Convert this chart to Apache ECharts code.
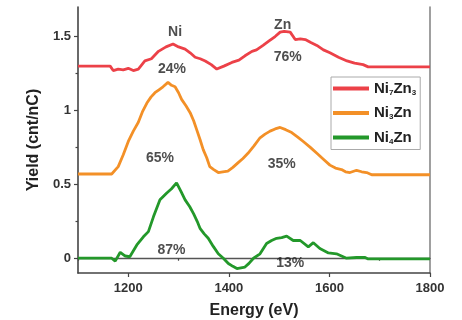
<!DOCTYPE html>
<html>
<head>
<meta charset="utf-8">
<script src="https://cdn.jsdelivr.net/npm/echarts@6/dist/echarts.min.js"></script>
<style>
  html, body { margin: 0; padding: 0; background: #fff; }
  #chart { width: 462px; height: 320px; }
</style>
</head>
<body>
<div id="chart"></div>
<script>
// Yield spectra: [energy (eV), yield (cnt/nC)]
const ni7zn3 = [
  [1100,1.30],[1164,1.30],[1170,1.27],[1180,1.28],[1190,1.275],[1200,1.285],[1210,1.27],[1220,1.28],
  [1233,1.335],[1246,1.35],[1260,1.40],[1275,1.43],[1289,1.45],[1300,1.43],[1313,1.415],[1323,1.39],
  [1333,1.36],[1343,1.35],[1353,1.335],[1365,1.31],[1376,1.28],[1390,1.30],[1406,1.325],[1420,1.34],
  [1432,1.37],[1446,1.40],[1455,1.41],[1468,1.44],[1480,1.47],[1492,1.50],[1502,1.53],[1510,1.535],
  [1522,1.53],[1532,1.48],[1542,1.485],[1552,1.48],[1563,1.46],[1575,1.44],[1588,1.41],[1601,1.39],
  [1618,1.36],[1635,1.335],[1650,1.32],[1667,1.31],[1677,1.295],[1800,1.295]
];
const ni3zn = [
  [1100,0.57],[1167,0.57],[1180,0.62],[1190,0.70],[1200,0.79],[1210,0.86],[1220,0.92],[1228,0.99],
  [1237,1.05],[1245,1.09],[1253,1.12],[1261,1.14],[1269,1.16],[1279,1.19],[1286,1.17],[1293,1.16],
  [1300,1.12],[1306,1.075],[1315,1.03],[1323,0.985],[1330,0.93],[1336,0.87],[1343,0.80],[1349,0.735],
  [1356,0.68],[1362,0.62],[1370,0.60],[1379,0.58],[1388,0.585],[1398,0.59],[1408,0.615],[1418,0.645],
  [1428,0.675],[1438,0.71],[1450,0.76],[1462,0.815],[1472,0.84],[1482,0.86],[1492,0.875],[1502,0.885],
  [1513,0.87],[1525,0.85],[1537,0.82],[1548,0.79],[1562,0.75],[1575,0.71],[1588,0.67],[1601,0.63],
  [1612,0.61],[1624,0.60],[1632,0.585],[1641,0.58],[1654,0.595],[1664,0.585],[1674,0.58],[1684,0.565],
  [1800,0.565]
];
const ni4zn = [
  [1100,0],[1167,0],[1174,-0.02],[1184,0.04],[1194,0.015],[1203,0.01],[1217,0.09],[1230,0.145],
  [1240,0.18],[1250,0.28],[1263,0.395],[1276,0.44],[1286,0.47],[1296,0.51],[1305,0.45],[1313,0.395],
  [1322,0.35],[1330,0.30],[1337,0.25],[1343,0.20],[1351,0.165],[1359,0.135],[1369,0.08],[1379,0.03],
  [1389,0.0],[1399,-0.036],[1408,-0.055],[1416,-0.07],[1424,-0.065],[1432,-0.06],[1440,-0.035],[1449,0.0],
  [1462,0.03],[1475,0.10],[1485,0.12],[1495,0.135],[1505,0.14],[1515,0.15],[1528,0.12],[1542,0.12],
  [1558,0.077],[1568,0.105],[1581,0.066],[1598,0.036],[1614,0.03],[1624,0.015],[1634,0.0],[1654,0.005],
  [1671,0.005],[1677,-0.005],[1800,-0.005]
];

// Peak annotations: [energy, yield, text]
const annotations = [
  [1293, 1.53, 'Ni'], [1507, 1.58, 'Zn'],
  [1287, 1.28, '24%'], [1517, 1.36, '76%'],
  [1263, 0.68, '65%'], [1505, 0.64, '35%'],
  [1286, 0.054, '87%'], [1522, -0.036, '13%']
];

const xMajorTicks = [1200, 1400, 1600, 1800];
const xMinorTicks = [1100, 1300, 1500, 1700];
const yMajorTicks = [0, 0.5, 1, 1.5];
const yMinorTicks = [0.25, 0.75, 1.25];

const seriesNames = ['Ni7Zn3', 'Ni3Zn', 'Ni4Zn'];
const legendText = {
  'Ni7Zn3': 'Ni{sub|7}Zn{sub|3}',
  'Ni3Zn': 'Ni{sub|3}Zn',
  'Ni4Zn': 'Ni{sub|4}Zn'
};
const colors = ['#ec4148', '#f39027', '#23982a'];

const FONT = 'Liberation Sans, Arial, sans-serif';
const axisColor = '#444';

const chart = echarts.init(document.getElementById('chart'), null, { renderer: 'canvas' });

const grid = { left: 78, right: 32, top: 7, bottom: 47, containLabel: false, outerBoundsMode: 'none' };

function lineSeries(name, data, color) {
  return {
    name, type: 'line', data, xAxisIndex: 0, yAxisIndex: 0,
    showSymbol: false, symbol: 'none', smooth: false,
    lineStyle: { color, width: 2.8 },
    itemStyle: { color },
    z: 3
  };
}

const option = {
  animation: false,
  backgroundColor: '#fff',
  grid,
  legend: {
    data: seriesNames,
    orient: 'vertical',
    left: 331, top: 77,
    width: 92,
    backgroundColor: '#fff',
    borderColor: '#aaa', borderWidth: 1, borderRadius: 0,
    padding: [4, 4, 4, 2],
    itemWidth: 36, itemHeight: 4, itemGap: 9,
    icon: 'rect',
    formatter: n => legendText[n],
    textStyle: {
      fontFamily: FONT, fontWeight: 'bold', fontSize: 15, color: '#222',
      rich: {
        sub: { fontFamily: FONT, fontWeight: 'bold', fontSize: 8, color: '#222', padding: [8, 0, 0, 0] }
      }
    }
  },
  xAxis: [
    {
      type: 'value', min: 1100, max: 1800,
      name: 'Energy (eV)', nameLocation: 'middle', nameGap: 30,
      nameTextStyle: { fontFamily: FONT, fontWeight: 'bold', fontSize: 16, color: '#222' },
      axisLine: { show: true, onZero: false, lineStyle: { color: axisColor, width: 1.6 } },
      axisTick: { show: true, customValues: xMajorTicks, length: 4, inside: false, lineStyle: { color: axisColor, width: 1.2 } },
      axisLabel: { customValues: xMajorTicks, margin: 9, fontFamily: FONT, fontWeight: 'bold', fontSize: 13, color: '#333',
        formatter: v => String(v) },
      splitLine: { show: false }
    },
    {
      type: 'value', min: 1100, max: 1800, position: 'bottom',
      axisLine: { show: false },
      axisTick: { show: true, customValues: xMinorTicks, length: 2.5, lineStyle: { color: axisColor, width: 1.2 } },
      axisLabel: { show: false }, splitLine: { show: false }
    },
    {
      type: 'value', min: 1100, max: 1800, position: 'top',
      axisLine: { show: true, lineStyle: { color: '#555', width: 1.4 } },
      axisTick: { show: false }, axisLabel: { show: false }, splitLine: { show: false }
    }
  ],
  yAxis: [
    {
      type: 'value', min: -0.1, max: 1.7,
      name: 'Yield (cnt/nC)', nameLocation: 'middle', nameGap: 34,
      nameTextStyle: { fontFamily: FONT, fontWeight: 'bold', fontSize: 16, color: '#222' },
      axisLine: { show: true, onZero: false, lineStyle: { color: axisColor, width: 1.6 } },
      axisTick: { show: true, customValues: yMajorTicks, length: 4, lineStyle: { color: axisColor, width: 1.2 } },
      axisLabel: { customValues: yMajorTicks, margin: 7, fontFamily: FONT, fontWeight: 'bold', fontSize: 13, color: '#333',
        formatter: v => String(v) },
      splitLine: { show: false }
    },
    {
      type: 'value', min: -0.1, max: 1.7, position: 'left',
      axisLine: { show: false },
      axisTick: { show: true, customValues: yMinorTicks, length: 2.5, lineStyle: { color: axisColor, width: 1.2 } },
      axisLabel: { show: false }, splitLine: { show: false }
    },
    {
      type: 'value', min: -0.1, max: 1.7, position: 'right',
      axisLine: { show: true, lineStyle: { color: '#888', width: 1.6 } },
      axisTick: { show: false }, axisLabel: { show: false }, splitLine: { show: false }
    }
  ],
  series: [
    lineSeries('Ni7Zn3', ni7zn3, colors[0]),
    lineSeries('Ni3Zn', ni3zn, colors[1]),
    lineSeries('Ni4Zn', ni4zn, colors[2]),
    {
      name: 'annotations', type: 'scatter', xAxisIndex: 0, yAxisIndex: 0,
      symbolSize: 0, silent: true, z: 5,
      data: annotations.map(a => ({ value: [a[0], a[1]], text: a[2] })),
      label: {
        show: true, position: 'inside',
        formatter: p => p.data.text,
        fontFamily: FONT, fontWeight: 'bold', fontSize: 14, color: '#222'
      }
    }
  ]
};

chart.setOption(option);
</script>
</body>
</html>
